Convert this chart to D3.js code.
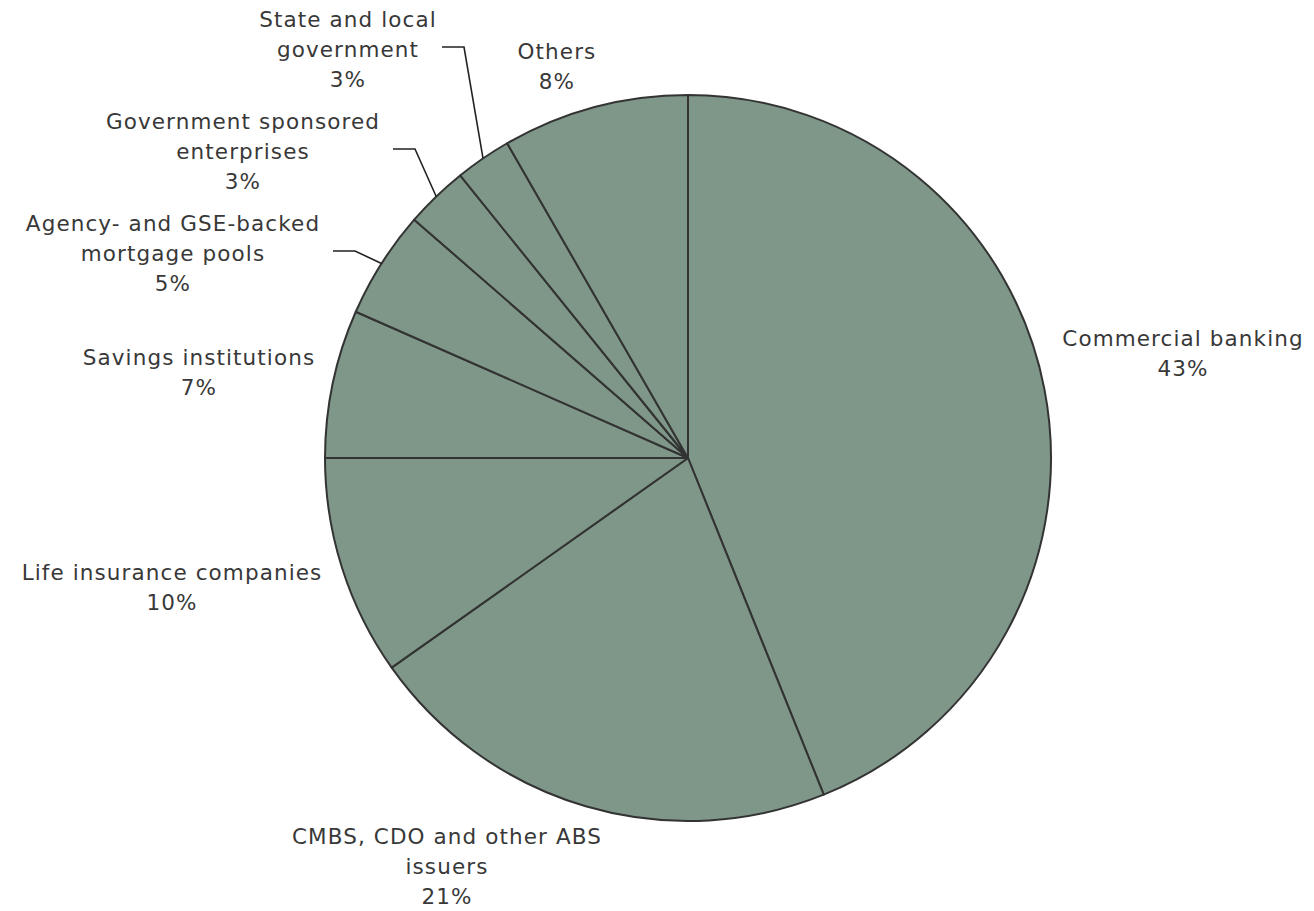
<!DOCTYPE html>
<html>
<head>
<meta charset="utf-8">
<script src="https://cdn.jsdelivr.net/npm/d3@7"></script>
<style>
  html, body { margin: 0; padding: 0; background: #fff; }
  svg text { font-family: "DejaVu Sans", Verdana, sans-serif; fill: #383838; }
</style>
</head>
<body>
<svg id="chart" width="1314" height="911"></svg>
<script>
// Holders of commercial mortgage debt
const categories = [
    'Commercial banking',
    'CMBS, CDO and other ABS issuers',
    'Life insurance companies',
    'Savings institutions',
    'Agency- and GSE-backed mortgage pools',
    'Government sponsored enterprises',
    'State and local government',
    'Others'
];
const shares = [43.9, 21.3, 9.8, 6.6, 4.8, 2.8, 2.5, 8.3];
const pctLabels = ['43%', '21%', '10%', '7%', '5%', '3%', '3%', '8%'];

// label text lines as they wrap in the picture
const labelLines = [
    ['Commercial banking'],
    ['CMBS, CDO and other ABS', 'issuers'],
    ['Life insurance companies'],
    ['Savings institutions'],
    ['Agency- and GSE-backed', 'mortgage pools'],
    ['Government sponsored', 'enterprises'],
    ['State and local', 'government'],
    ['Others']
];

// where each label block sits (center x, first line center y)
const labelPos = [
    [1183, 338], [447, 836], [172, 572], [199, 357],
    [173, 223], [243, 121], [348, 19], [557, 51]
];
// labels that get a leader line: [horizontal start x, line y]
const leaders = { 4: [333, 251], 5: [393, 149], 6: [442, 47] };

const cx = 688, cy = 458, R = 363;
const lineH = 30;

const svg = d3.select('#chart');
const g = svg.append('g').attr('transform', `translate(${cx},${cy})`);

const pie = d3.pie().sort(null).value(d => d)(shares);
const arc = d3.arc().innerRadius(0).outerRadius(R);

g.selectAll('path.slice')
    .data(pie)
    .join('path')
    .attr('class', 'slice')
    .attr('d', arc)
    .attr('fill', '#7e9789')
    .attr('stroke', '#333')
    .attr('stroke-width', 2)
    .attr('stroke-linejoin', 'round');

// leader lines
Object.keys(leaders).forEach(k => {
    const i = +k;
    const p = pie[i];
    const a = (p.startAngle + p.endAngle) / 2;
    const ex = cx + R * Math.sin(a), ey = cy - R * Math.cos(a);
    const [hx, hy] = leaders[k];
    const kx = hx + 22;
    svg.append('polyline')
        .attr('points', `${hx},${hy} ${kx},${hy} ${ex},${ey}`)
        .attr('fill', 'none')
        .attr('stroke', '#222')
        .attr('stroke-width', 1.6);
});

// labels
labelLines.forEach((lines, i) => {
    const [x, y] = labelPos[i];
    const t = svg.append('text')
        .attr('text-anchor', 'middle')
        .attr('font-size', 21.5)
        .attr('letter-spacing', 1.1);
    lines.concat([pctLabels[i]]).forEach((s, j) => {
        t.append('tspan')
            .attr('x', x)
            .attr('y', y + j * lineH)
            .attr('dy', '0.36em')
            .text(s);
    });
});
</script>
</body>
</html>
